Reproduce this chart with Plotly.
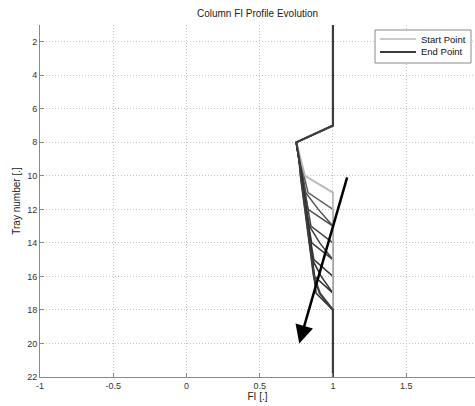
import plotly.graph_objects as go

# ---- data ----
trays = list(range(1, 23))
top_trays_value = 1.0          # FI on trays 1..7
feed_tray = 8
feed_value = 0.75              # FI on tray 8
# FI values on trays 9.. before profile returns to 1.0 (one list per snapshot)
profile_mid = [
    [0.78, 0.81],
    [0.775, 0.80, 0.83],
    [0.775, 0.795, 0.815, 0.90],
    [0.77, 0.79, 0.81, 0.83],
    [0.77, 0.79, 0.805, 0.825, 0.85],
    [0.77, 0.785, 0.80, 0.82, 0.84, 0.91],
    [0.77, 0.785, 0.80, 0.815, 0.835, 0.855],
    [0.77, 0.785, 0.80, 0.815, 0.83, 0.85, 0.87],
    [0.77, 0.785, 0.80, 0.815, 0.83, 0.845, 0.86, 0.92],
    [0.77, 0.785, 0.80, 0.815, 0.83, 0.845, 0.86, 0.875],
    [0.77, 0.78, 0.795, 0.81, 0.825, 0.84, 0.855, 0.87, 0.885],
    [0.77, 0.78, 0.795, 0.81, 0.825, 0.84, 0.855, 0.87, 0.91],
]
legend_names = ["Start Point", "End Point"]
arrow_start = (1.10, 10.0)
arrow_end = (0.77, 20.0)
x_ticks = [-1, -0.5, 0, 0.5, 1, 1.5]
x_ticktext = ["-1", "-0.5", "0", "0.5", "1", "1.5"]
y_ticks = list(range(2, 23, 2))

FONT = "Liberation Sans, Arial, sans-serif"
START_COLOR = "rgb(185,185,185)"
END_COLOR = "rgb(60,60,60)"


def full_profile(mid):
    xs = []
    for t in trays:
        if t < feed_tray:
            xs.append(top_trays_value)
        elif t == feed_tray:
            xs.append(feed_value)
        elif t - feed_tray - 1 < len(mid):
            xs.append(mid[t - feed_tray - 1])
        else:
            xs.append(top_trays_value)
    return xs


fig = go.Figure()
n = len(profile_mid)
# intermediate snapshots first, then start, then end (drawn on top)
order = list(range(1, n - 1)) + [0, n - 1]
for i in order:
    if i == 0:
        color, w = START_COLOR, 1.8
    elif i == n - 1:
        color, w = END_COLOR, 2.2
    else:
        frac = (i / (n - 1)) ** 0.5
        g = int(120 - (120 - 35) * frac)
        color, w = f"rgb({g},{g},{g})", 1.5
    fig.add_trace(go.Scatter(
        x=full_profile(profile_mid[i]), y=trays, mode="lines",
        line=dict(color=color, width=w),
        showlegend=False, hoverinfo="skip",
    ))

fig.add_annotation(
    x=arrow_end[0], y=arrow_end[1], ax=arrow_start[0], ay=arrow_start[1],
    xref="x", yref="y", axref="x", ayref="y",
    showarrow=True, arrowhead=2, arrowsize=1.45, arrowwidth=2.5,
    arrowcolor="black", text="",
)

# ---- legend box (paper coords: plot area is 40..475 px wide, 25..377 px tall) ----
def px_x(p):
    return (p - 40) / 435.0


def px_y(p):
    return (377 - p) / 352.0


fig.add_shape(type="rect", xref="paper", yref="paper",
              x0=px_x(375), x1=px_x(471), y0=px_y(63), y1=px_y(30),
              line=dict(color="#8a8a8a", width=1), fillcolor="white", layer="above")
for k, (name, col, w) in enumerate([(legend_names[0], START_COLOR, 1.5),
                                     (legend_names[1], END_COLOR, 2.2)]):
    yy = 39 + k * 13
    fig.add_shape(type="line", xref="paper", yref="paper",
                  x0=px_x(380), x1=px_x(416), y0=px_y(yy), y1=px_y(yy),
                  line=dict(color=col, width=w), layer="above")
    fig.add_annotation(xref="paper", yref="paper", x=px_x(419), y=px_y(yy),
                       text=name, showarrow=False, xanchor="left", yanchor="middle",
                       font=dict(family=FONT, size=9.5, color="#111"))

axis_common = dict(
    showgrid=True, gridcolor="#c4c4c4", griddash="1px,2px", gridwidth=1,
    showline=True, linecolor="#8a8a8a", linewidth=1,
    ticks="inside", ticklen=4, tickcolor="#8a8a8a",
    tickfont=dict(family=FONT, size=9, color="#333"),
    zeroline=False, automargin=False,
)

fig.update_layout(
    width=475, height=406,
    margin=dict(l=40, r=0, t=25, b=29),
    paper_bgcolor="white", plot_bgcolor="white",
    title=dict(text="Column FI Profile Evolution", x=0.5, xref="paper",
               y=0.975, yref="container", xanchor="center",
               font=dict(family=FONT, size=10, color="#222")),
    xaxis=dict(range=[-1, 1.97], tickvals=x_ticks, ticktext=x_ticktext,
               title=dict(text="FI [.]", font=dict(family=FONT, size=10, color="#222"), standoff=0),
               **axis_common),
    yaxis=dict(range=[22, 1], tickvals=y_ticks,
               title=dict(text="Tray number [.]", font=dict(family=FONT, size=10, color="#222"), standoff=4),
               **axis_common),
    showlegend=False,
)

fig.write_html("out.html")
